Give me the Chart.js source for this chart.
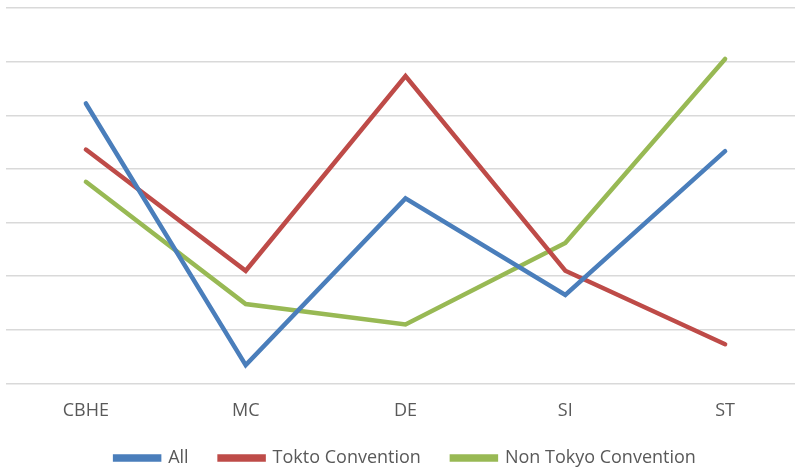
<!DOCTYPE html>
<html>
<head>
<meta charset="utf-8">
<script src="https://cdn.jsdelivr.net/npm/chart.js@4/dist/chart.umd.min.js"></script>
<style>
  html, body { margin: 0; padding: 0; background: #fff; overflow: hidden; }
  #wrap { width: 805px; height: 477px; }
</style>
</head>
<body>
<div id="wrap"><canvas id="chart"></canvas></div>
<script>
"use strict";

const categories = ["CBHE", "MC", "DE", "SI", "ST"];
const allValues = [5.22, 0.34, 3.45, 1.65, 4.33];
const toktoValues = [4.36, 2.1, 5.73, 2.1, 0.73];
const nonTokyoValues = [3.76, 1.48, 1.1, 2.62, 6.05];

function line(label, data, color) {
  return {
    label: label,
    data: data,
    borderColor: color,
    backgroundColor: color,
    borderWidth: 4.5,
    pointRadius: 0,
    tension: 0,
    borderCapStyle: "round",
    borderJoinStyle: "miter",
  };
}

const ctx = document.getElementById("chart").getContext("2d");
new Chart(ctx, {
  type: "line",
  data: {
    labels: categories,
    datasets: [
      line("All", allValues, "#4a7ebb"),
      line("Tokto Convention", toktoValues, "#be4b48"),
      line("Non Tokyo Convention", nonTokyoValues, "#98b954"),
    ],
  },
  options: {
    responsive: true,
    maintainAspectRatio: false,
    animation: false,
    layout: { padding: { left: 6, right: 0, top: 8, bottom: 0 } },
    scales: {
      x: {
        offset: true,
        grid: { display: false, drawTicks: false },
        border: { display: false },
        ticks: {
          color: "#595959",
          font: { family: "Open Sans", size: 18 },
          padding: 17,
        },
        // pull the legend up closer to the tick labels
        afterFit: (scale) => {
          scale.height -= 21;
        },
      },
      y: {
        min: 0,
        max: 7,
        ticks: { display: false, stepSize: 1 },
        border: { display: false },
        grid: { color: "#d9d9d9", lineWidth: 1.5, drawTicks: false },
      },
    },
    plugins: {
      legend: {
        position: "bottom",
        labels: {
          color: "#595959",
          font: { family: "Open Sans", size: 18 },
          boxWidth: 44,
          boxHeight: 3,
          padding: 31,
        },
      },
      tooltip: { enabled: false },
    },
  },
});
</script>
</body>
</html>
